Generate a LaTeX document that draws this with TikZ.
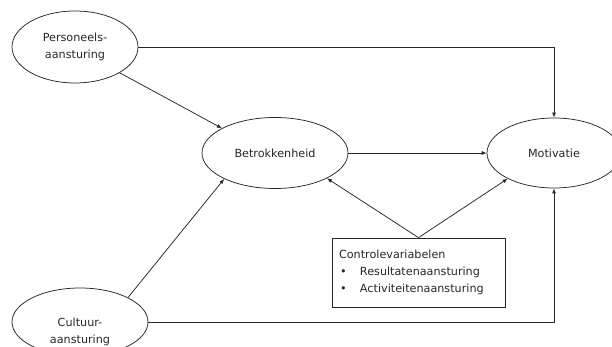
\documentclass[tikz,border=0pt]{standalone}
\usepackage{fontspec}
\setmainfont{DejaVu Sans}
\usetikzlibrary{shapes.geometric,arrows.meta}
\definecolor{ink}{gray}{0.15}
\begin{document}
\begin{tikzpicture}[x=1pt,y=1pt,
  every node/.style={text=ink,font=\fontsize{11.2}{16.8}\selectfont},
  oval/.style={draw=ink,ellipse,line width=0.75pt,inner sep=0pt,align=center},
  arr/.style={draw=ink,line width=0.75pt,-{Latex[length=5pt,width=4pt]}},
  ctrlbox/.style={draw=ink,rectangle,line width=0.75pt,align=left,text width=159pt,inner xsep=7pt,inner ysep=0pt,minimum height=69pt}
]
\useasboundingbox (0,0) rectangle (612,347);
\node[oval,minimum width=126pt,minimum height=72pt] (P) at (75,300) {Personeels-\\aansturing};
\node[oval,minimum width=146pt,minimum height=71pt] (B) at (275,194) {Betrokkenheid};
\node[oval,minimum width=134pt,minimum height=70pt] (M) at (554,194) {Motivatie};
\node[oval,minimum width=136pt,minimum height=68pt] (C) at (80,25) {};
\node[align=center] (Ct) at (80,15) {Cultuur-\\aansturing};
\node[ctrlbox] (K) at (418.5,74.5) {Controlevariabelen\\
\makebox[21pt][l]{\hspace{1pt}•}Resultatenaansturing\\
\makebox[21pt][l]{\hspace{1pt}•}Activiteitenaansturing};
\draw[arr] (P.east) -| (M.north);
\draw[arr] (C.east) -| (M.south);
\draw[arr] (B.east) -- (M.west);
\draw[arr] (P.-30) -- (B.155);
\draw[arr] (C.27) -- (B.207);
\draw[arr] (K.north) -- (B.-26);
\draw[arr] (K.north) -- (M.209);
\end{tikzpicture}
\end{document}
